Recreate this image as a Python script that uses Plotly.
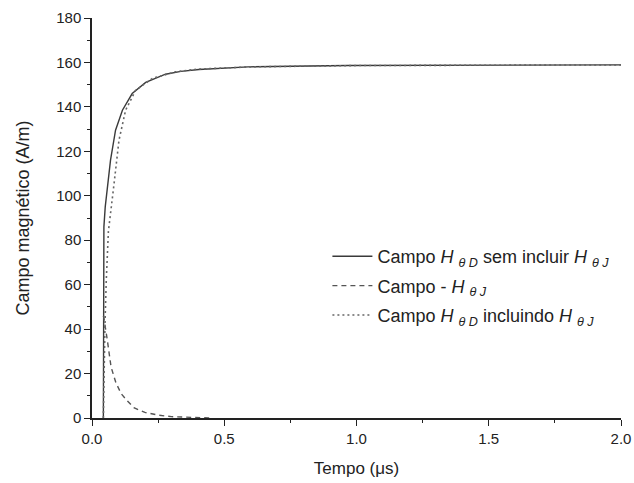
import plotly.graph_objects as go

# Solid: Campo H_thetaD sem incluir H_thetaJ
t_solid = [0.043, 0.043, 0.045, 0.050, 0.058, 0.070, 0.089, 0.115, 0.152, 0.203, 0.278, 0.336, 0.404, 0.59, 0.965, 1.5, 2.0]
h_solid = [0, 78, 86, 95, 104, 116, 129.5, 138.5, 146, 151, 154.7, 156, 156.8, 158, 158.6, 158.8, 158.9]

# Dashed: Campo - H_thetaJ
t_dash = [0.043, 0.045, 0.058, 0.072, 0.090, 0.110, 0.135, 0.160, 0.200, 0.250, 0.300, 0.350, 0.450]
h_dash = [46, 45, 35, 23, 16, 11, 7.5, 4.5, 2.5, 1.3, 0.6, 0.3, 0.0]

# Dotted: Campo H_thetaD incluindo H_thetaJ
t_dot = [0.043, 0.044, 0.046, 0.049, 0.054, 0.062, 0.083, 0.102, 0.127, 0.165, 0.228, 0.316, 0.40, 0.60, 1.0, 1.5, 2.0]
h_dot = [0, 10, 30, 42, 62, 84, 105, 125, 138.5, 147.5, 152.8, 155.8, 157, 158, 158.6, 158.8, 158.9]

legend_names = [
    "Campo <i>H</i> <sub><i>θ D</i></sub> sem incluir <i>H</i> <sub><i>θ J</i></sub>",
    "Campo - <i>H</i> <sub><i>θ J</i></sub>",
    "Campo <i>H</i> <sub><i>θ D</i></sub> incluindo <i>H</i> <sub><i>θ J</i></sub>",
]

x_ticks = [0.0, 0.5, 1.0, 1.5, 2.0]
x_ticklabels = ["0.0", "0.5", "1.0", "1.5", "2.0"]
y_ticks = [0, 20, 40, 60, 80, 100, 120, 140, 160, 180]

fig = go.Figure()
fig.add_trace(go.Scatter(x=t_solid, y=h_solid, mode="lines", name=legend_names[0], legendgroup="a",
                         line=dict(color="#3a3a3a", width=1.4, dash="solid")))
fig.add_trace(go.Scatter(x=t_dash, y=h_dash, mode="lines", name=legend_names[1], legendgroup="b",
                         line=dict(color="#555555", width=1.4, dash="5px,4px")))
fig.add_trace(go.Scatter(x=t_dot, y=h_dot, mode="lines", name=legend_names[2], legendgroup="c",
                         line=dict(color="#666666", width=1.6, dash="2px,3px")))

font_family = "Liberation Sans, Arial, sans-serif"
fig.update_layout(
    width=634, height=483,
    margin=dict(l=92, r=13, t=18, b=65, autoexpand=False),
    plot_bgcolor="white", paper_bgcolor="white",
    font=dict(family=font_family, size=15, color="#222222"),
    showlegend=True,
    legend=dict(x=0.445, y=0.45, xanchor="left", yanchor="top",
                bgcolor="rgba(0,0,0,0)", borderwidth=0, itemwidth=40,
                font=dict(size=18, color="#222222"), tracegroupgap=3),
    xaxis=dict(range=[0, 2.0], tickvals=x_ticks, ticktext=x_ticklabels, automargin=False,
               showgrid=False, zeroline=False, showline=True, linecolor="#222222", linewidth=1.5,
               ticks="outside", ticklen=6, tickwidth=1.3, tickcolor="#222222",
               minor=dict(ticks="outside", ticklen=3, tickwidth=1.2, tickcolor="#222222", dtick=0.25, tick0=0),
               title=dict(text="Tempo (μs)", font=dict(size=17), standoff=16),
               tickfont=dict(size=15)),
    yaxis=dict(range=[0, 180], tickvals=y_ticks, automargin=False,
               showgrid=False, zeroline=False, showline=True, linecolor="#222222", linewidth=1.5,
               ticks="outside", ticklen=6, tickwidth=1.3, tickcolor="#222222",
               minor=dict(ticks="outside", ticklen=3, tickwidth=1.2, tickcolor="#222222", dtick=10, tick0=0),
               title=dict(text="Campo magnético (A/m)", font=dict(size=18), standoff=22),
               tickfont=dict(size=15)),
)

fig.write_html("out.html", config={"displayModeBar": False},
               post_script="document.body.style.margin='0px';")
